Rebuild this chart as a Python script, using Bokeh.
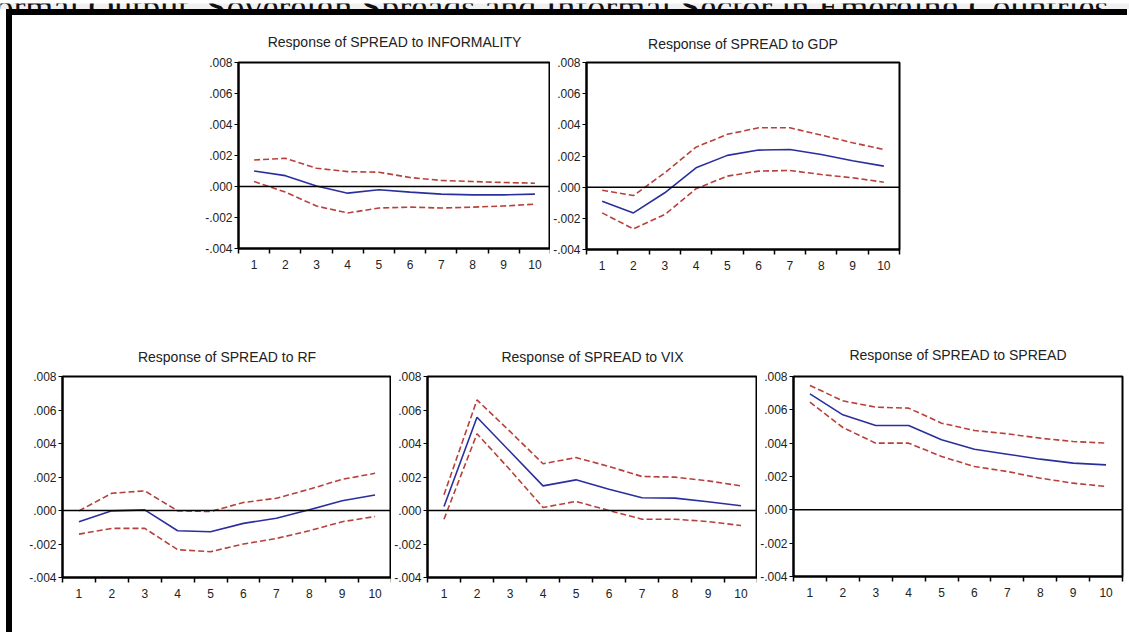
from bokeh.plotting import figure
from bokeh.layouts import row, column
from bokeh.models import Spacer, Range1d, FixedTicker, CustomJSTickFormatter, Span, ColumnDataSource, Label
from bokeh.embed import file_html
from bokeh.resources import INLINE

# ---------------- data ----------------
periods = [1, 2, 3, 4, 5, 6, 7, 8, 9, 10]
y_ticks = [-0.004, -0.002, 0.0, 0.002, 0.004, 0.006, 0.008]

page_heading = "Formal Output, Sovereign Spreads and Informal Sector in Emerging Countries"
titles = [
    "Response of SPREAD to INFORMALITY",
    "Response of SPREAD to GDP",
    "Response of SPREAD to RF",
    "Response of SPREAD to VIX",
    "Response of SPREAD to SPREAD",
]

inf_resp = [0.0010, 0.0007, 0.00003, -0.00043, -0.00021, -0.00036, -0.00049, -0.00054, -0.00054, -0.00049]
inf_up = [0.00171, 0.00182, 0.00118, 0.00096, 0.00092, 0.00058, 0.00039, 0.00032, 0.00026, 0.00021]
inf_lo = [0.00032, -0.00036, -0.00126, -0.00171, -0.00139, -0.00133, -0.00139, -0.00133, -0.00126, -0.00114]

gdp_resp = [-0.0009, -0.00165, -0.00036, 0.00124, 0.00204, 0.00238, 0.00242, 0.0021, 0.0017, 0.00135]
gdp_up = [-0.0002, -0.00054, 0.00092, 0.00257, 0.00339, 0.00381, 0.00381, 0.00334, 0.00285, 0.00242]
gdp_lo = [-0.00165, -0.00268, -0.00176, -0.0001, 0.00071, 0.00103, 0.00107, 0.00081, 0.0006, 0.00032]

rf_resp = [-0.00067, -0.00002, 0.00004, -0.00121, -0.00127, -0.00077, -0.00046, 0.00004, 0.00058, 0.00093]
rf_up = [-0.00002, 0.00103, 0.00117, -0.00002, -0.00006, 0.00048, 0.00073, 0.00127, 0.00186, 0.00222]
rf_lo = [-0.00141, -0.00107, -0.00107, -0.00234, -0.00246, -0.002, -0.00167, -0.00121, -0.00067, -0.00036]

vix_resp = [0.00024, 0.00557, 0.00352, 0.00147, 0.00183, 0.00127, 0.00076, 0.00074, 0.00052, 0.00028]
vix_up = [0.00094, 0.0066, 0.00472, 0.00279, 0.00316, 0.00263, 0.00203, 0.00199, 0.00177, 0.00147]
vix_lo = [-0.00052, 0.00458, 0.00243, 0.00018, 0.00054, 0.0, -0.00052, -0.00052, -0.00066, -0.0009]

spr_resp = [0.00696, 0.0057, 0.00506, 0.00506, 0.0042, 0.00364, 0.00334, 0.00304, 0.0028, 0.0027]
spr_up = [0.00746, 0.00654, 0.00616, 0.0061, 0.0052, 0.00476, 0.00456, 0.0043, 0.0041, 0.004]
spr_lo = [0.00646, 0.00494, 0.004, 0.004, 0.0032, 0.0026, 0.0023, 0.0019, 0.0016, 0.0014]

# ---------------- styling ----------------
FONT = "Liberation Sans"
BLUE = "#2b2f9e"
RED = "#b8403a"
minor_x = [0.5 + i for i in range(11)]

fmt = CustomJSTickFormatter(code='return tick.toFixed(3).replace("0.", ".");')


def panel(title, resp, up, lo, bl, bt, br, bb, fw, fh, standoff):
    p = figure(frame_width=fw, frame_height=fh,
               min_border_left=bl, min_border_top=bt, min_border_right=br, min_border_bottom=bb,
               x_range=Range1d(0.5, 10.5), y_range=Range1d(-0.004, 0.008),
               output_backend="svg", toolbar_location=None, tools="",
               background_fill_color="white", border_fill_color="white",
               outline_line_color="black", outline_line_width=2)
    p.title.text = title
    p.title.align = "center"
    p.title.text_font = FONT
    p.title.text_font_size = "14px"
    p.title.text_font_style = "normal"
    p.title.text_color = "#222222"
    p.title.standoff = standoff
    p.xgrid.visible = False
    p.ygrid.visible = False

    src = ColumnDataSource(dict(x=periods, r=resp, u=up, l=lo))
    p.add_layout(Span(location=0, dimension="width", line_color="black", line_width=1.5))
    p.line("x", "u", source=src, line_color=RED, line_width=1.6, line_dash="6 3")
    p.line("x", "l", source=src, line_color=RED, line_width=1.6, line_dash="6 3")
    p.line("x", "r", source=src, line_color=BLUE, line_width=1.6)

    ya = p.yaxis[0]
    ya.ticker = FixedTicker(ticks=y_ticks)
    ya.formatter = fmt
    ya.major_tick_out = 4
    ya.major_tick_in = 0
    ya.minor_tick_line_color = None
    ya.major_label_standoff = 2
    ya.major_label_text_font = FONT
    ya.major_label_text_font_size = "12px"
    ya.major_label_text_color = "#222222"
    ya.axis_line_width = 2

    xa = p.xaxis[0]
    xa.ticker = FixedTicker(ticks=periods, minor_ticks=minor_x)
    xa.major_tick_line_color = None
    xa.major_tick_out = 5
    xa.major_label_standoff = 6
    xa.minor_tick_out = 5
    xa.minor_tick_in = 0
    xa.minor_tick_line_color = "black"
    xa.minor_tick_line_width = 1.5
    xa.major_label_text_font = FONT
    xa.major_label_text_font_size = "12px"
    xa.major_label_text_color = "#222222"
    xa.axis_line_width = 2
    return p


# header strip with the cut-off page heading
head = figure(width=1129, height=9, min_border=0, x_range=Range1d(0, 1129), y_range=Range1d(0, 9),
              output_backend="svg", toolbar_location=None, tools="",
              background_fill_color="#f0f0f0", border_fill_color="#f0f0f0", outline_line_color=None)
head.axis.visible = False
head.grid.visible = False
head.add_layout(Label(x=1108, y=6, x_units="screen", y_units="screen", text=page_heading,
                      text_font="Liberation Serif", text_font_size="36px", text_align="right",
                      text_baseline="alphabetic", text_color="#111111"))

p1 = panel(titles[0], inf_resp, inf_up, inf_lo, 226, 45, 0, 84, 312, 186, 26)
p2 = panel(titles[1], gdp_resp, gdp_up, gdp_lo, 35, 47, 20, 81, 313, 187, 21)
p3 = panel(titles[2], rf_resp, rf_up, rf_lo, 50, 42, 0, 59, 329, 201, 24)
p4 = panel(titles[3], vix_resp, vix_up, vix_lo, 34, 43, 0, 58, 330, 201, 24)
p5 = panel(titles[4], spr_resp, spr_up, spr_lo, 33, 46, 4, 56, 329, 200, 27)

content = column(row(p1, p2, spacing=0), row(p3, p4, p5, spacing=0), spacing=0)

top_bar = row(Spacer(width=6, height=6),
              Spacer(width=1121, height=6, styles={"background-color": "black"}), spacing=0)
body = row(Spacer(width=6, height=617),
           Spacer(width=6, height=617, styles={"background-color": "black"}),
           content, spacing=0)
page = column(head, top_bar, body, spacing=0)

open("out.html", "w").write(file_html(page, INLINE))
